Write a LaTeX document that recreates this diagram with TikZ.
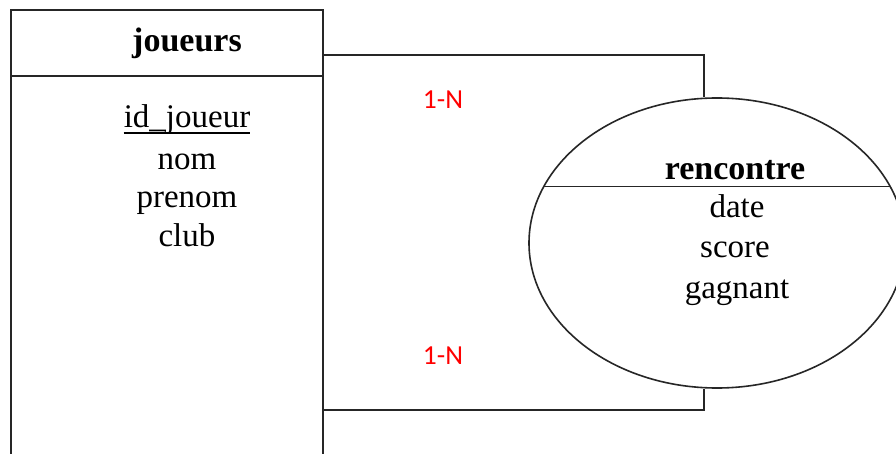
\documentclass[tikz,border=0pt]{standalone}
\usepackage{fontspec}
\setmainfont{Liberation Serif}
\newfontfamily\cardfont{Carlito}
\usetikzlibrary{shapes.geometric, positioning}

\begin{document}
\begin{tikzpicture}[
  x=1pt, y=-1pt,
  trait/.style={line width=1.6pt, draw=black!85},
  entite/.style={
    rectangle,
    trait,
    minimum width=312pt,
    minimum height=520pt,
    inner sep=0pt,
    anchor=north west
  },
  assoc/.style={
    ellipse,
    trait,
    minimum width=376pt,
    minimum height=290pt,
    inner sep=0pt
  },
  titre/.style={font=\fontsize{34}{40}\selectfont\bfseries, anchor=base, inner sep=0pt},
  attr/.style={font=\fontsize{33}{40}\selectfont, anchor=base, inner sep=0pt},
  card/.style={font=\cardfont\fontsize{27.5}{30}\selectfont, text=red},
  lien/.style={trait}
]

\clip (0,0) rectangle (896,454);
\fill[white] (0,0) rectangle (896,454);

% ============================================================
% Entite : joueurs
% ============================================================

\node[entite] (joueurs) at (10,9) {};
\draw[trait] ([yshift=-67pt]joueurs.north west) -- ([yshift=-67pt]joueurs.north east);

\node[titre] (tjoueurs) at (187,52) {joueurs};

\node[attr] (idj) at (187,128) {id\_joueur};
\draw[line width=1.4pt] ([yshift=-5pt]idj.base west) -- ([yshift=-5pt]idj.base east);
\node[attr] (nom) at (187,170) {nom};
\node[attr] (prenom) at (187,208) {prenom};
\node[attr] (club) at (187,247) {club};

% ============================================================
% Association : rencontre
% ============================================================

\node[assoc] (rencontre) at (717,243) {};
\draw[trait] (rencontre.162) -- (rencontre.18);

\node[titre] (trencontre) at (735,180) {rencontre};

\node[attr] (date) at (737,218) {date};
\node[attr] (score) at (735,258) {score};
\node[attr] (gagnant) at (737,298) {gagnant};

% ============================================================
% Liens et cardinalites
% ============================================================

\coordinate (jhaut) at ([yshift=-46pt]joueurs.north east);
\coordinate (jbas) at ([yshift=-401pt]joueurs.north east);

\draw[lien] (jhaut) -| ([xshift=-13pt]rencontre.north);
\draw[lien] (jbas) -| ([xshift=-13pt]rencontre.south);

\node[card] (c1) at (443,100) {1-N};
\node[card] (c2) at (443,356) {1-N};

\end{tikzpicture}
\end{document}
